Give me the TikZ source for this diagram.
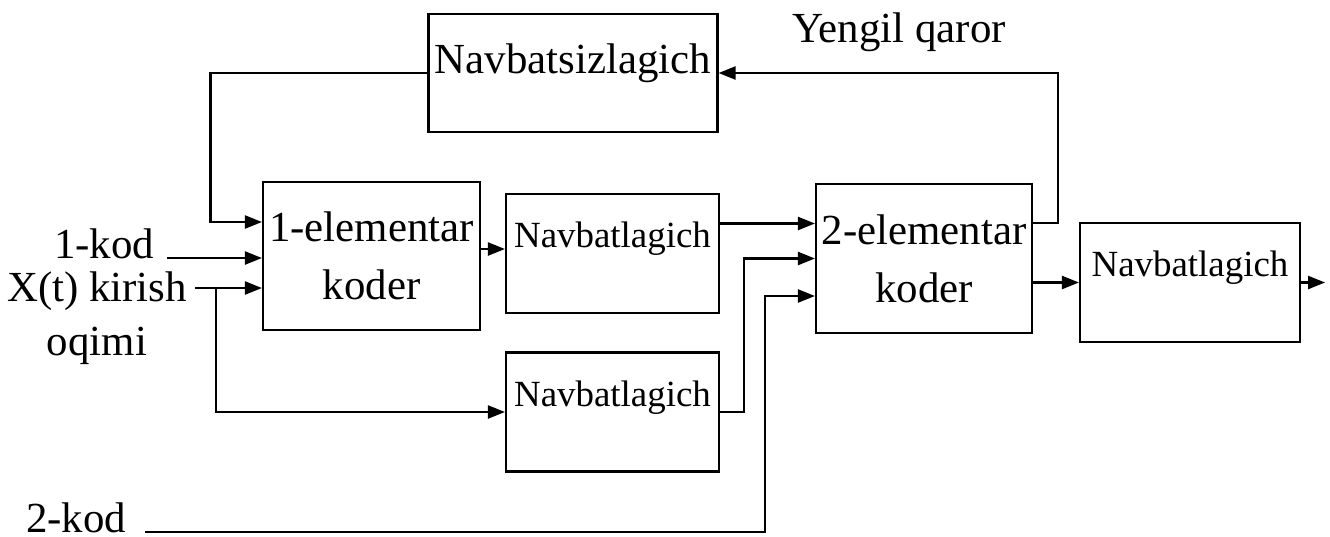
\documentclass[tikz,border=0pt]{standalone}
\usepackage{fontspec}
\setmainfont{Liberation Serif}
\usetikzlibrary{positioning, arrows.meta, calc}
\tikzset{
  blk/.style={draw, line width=0.6pt, inner sep=0pt, align=center},
  coder/.style={blk, font=\fontsize{12.2}{16.5}\selectfont},
  queue/.style={blk, font=\fontsize{10.5}{12}\selectfont, text height=2.6mm, text depth=3.8mm, minimum width=21.3mm, minimum height=11.9mm},
  lbl/.style={inner sep=0pt, align=center, font=\fontsize{12.2}{15.4}\selectfont},
  flow/.style={-{Triangle[length=1.7mm, width=1.3mm]}, line width=0.65pt},
}
\begin{document}
\begin{tikzpicture}[x=0.1mm, y=-0.1mm]
  \useasboundingbox (0,0) rectangle (1330,536);
  % blocks
  \node[blk, font=\fontsize{12.2}{14}\selectfont, text height=3mm, text depth=3mm, minimum width=28.9mm, minimum height=11.8mm] (nz) at (573,73) {Navbatsizlagich};
  \node[coder, minimum width=21.7mm, minimum height=14.8mm] (c1) at (371.5,256) {1-elementar\\koder};
  \node[queue] (qa) at (612.5,253.5) {Navbatlagich};
  \node[queue] (qb) at (612.5,412) {Navbatlagich};
  \node[coder, minimum width=21.6mm, minimum height=14.9mm] (c2) at (924,258.5) {2-elementar\\koder};
  \node[queue, minimum width=22mm] (qc) at (1190,282.5) {Navbatlagich};
  % labels
  \node[lbl, anchor=base east] (k1) at (155,258) {1-kod};
  \node[lbl, anchor=north] (xk) at (97,271) {X(t) kirish\\oqimi};
  \node[lbl, anchor=base east] (k2) at (127,532) {2-kod};
  \node[lbl, anchor=base] (yq) at (899,42) {Yengil qaror};
  \coordinate (xin) at (195,288);
  \coordinate (br) at (216,288);
  \coordinate (out) at ([xshift=2.4mm]qc.east);
  % connectors
  \draw[flow] (nz.west) -- ++(-217,0) |- ([yshift=3.4mm]c1.west);
  \draw[flow] ([xshift=1.2mm]k1.base east) -- (c1.west |- k1.base east);
  \draw[flow] (xin) -- (c1.west |- xin);
  \draw[flow] (br) |- (qb.west);
  \draw[flow] ([yshift=0.7mm]c1.east) -- ([yshift=0.7mm]c1.east -| qa.west);
  \draw[flow] ([yshift=3mm]qa.east) -- ([yshift=3mm]qa.east -| c2.west);
  \draw[flow] (qb.east) -- ++(24,0) |- (c2.west);
  \draw[flow] ([xshift=1.8mm]k2.base east) -- ++(620,0) |- ([yshift=-3.75mm]c2.west);
  \draw[flow] (c2.east |- qc.west) -- (qc.west);
  \draw[flow] ([yshift=3.55mm]c2.east) -- ++(25,0) |- (nz.east);
  \draw[flow] (qc.east) -- (out);
\end{tikzpicture}
\end{document}
